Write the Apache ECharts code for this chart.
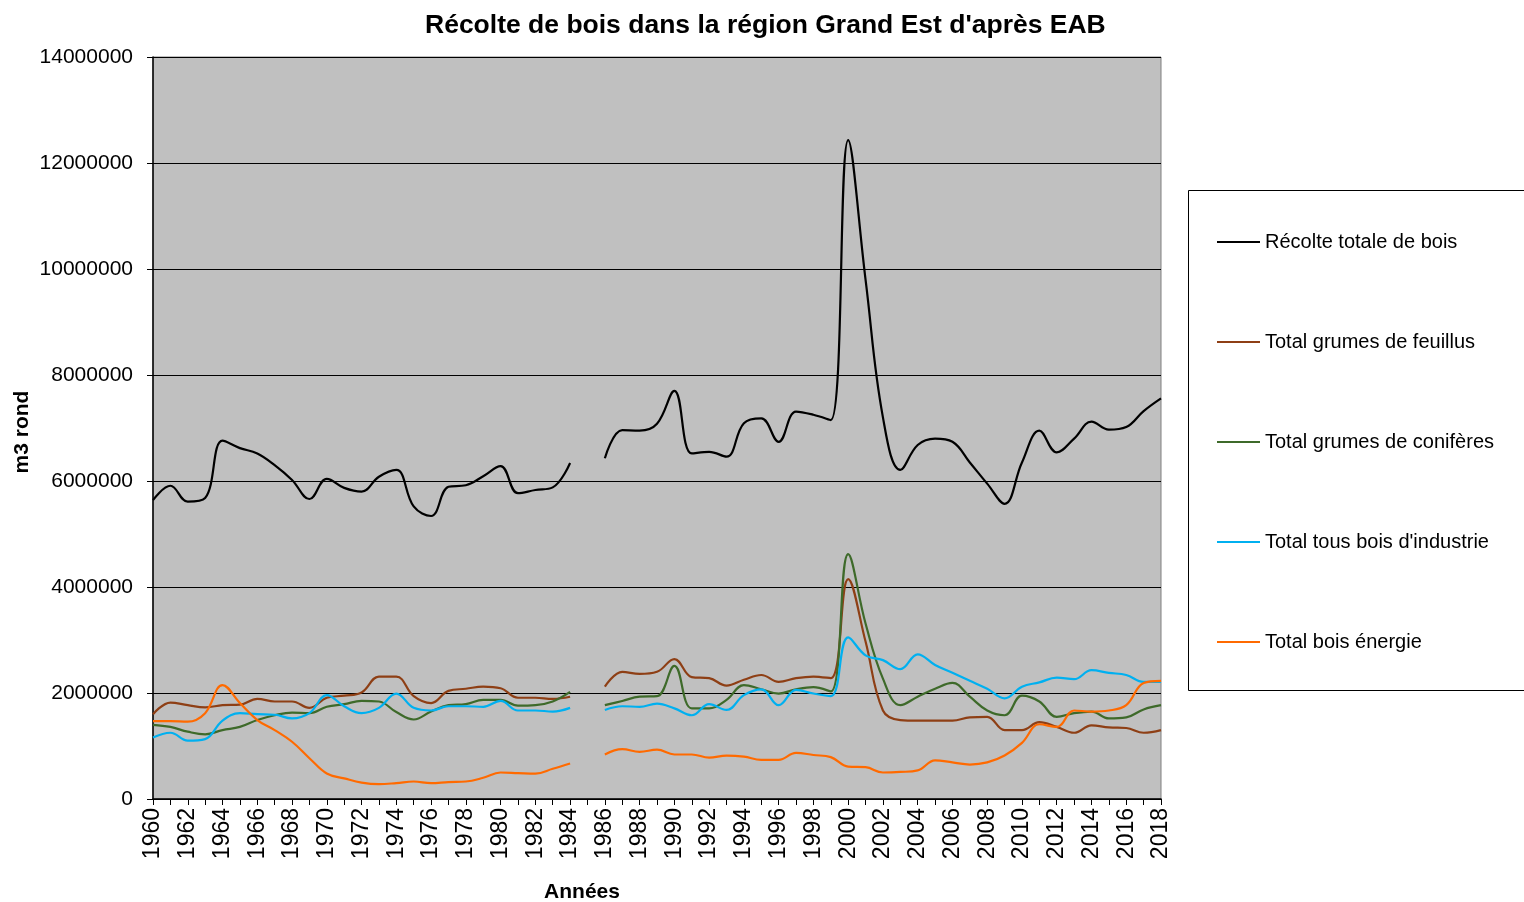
<!DOCTYPE html>
<html>
<head>
<meta charset="utf-8">
<script src="https://cdn.jsdelivr.net/npm/echarts@6/dist/echarts.min.js"></script>
<style>
html,body{margin:0;padding:0;background:#fff;}
#chart{width:1524px;height:902px;}
</style>
</head>
<body>
<div id="chart"></div>
<script>
const years = [];
for (let y = 1960; y <= 2018; y++) years.push(String(y));

const recolteTotale = [
5640000,5910000,5610000,5680000,6760000,6620000,6520000,6300000,6020000,5660000,
6040000,5870000,5800000,6080000,6210000,5520000,5340000,5890000,5920000,6090000,
6280000,5770000,5830000,5880000,6340000,null,
6430000,6960000,6950000,7080000,7700000,6520000,6550000,6460000,7090000,7180000,
6740000,7310000,7250000,7150000,12430000,9800000,7200000,6210000,6680000,6800000,
6740000,6350000,5950000,5570000,6350000,6950000,6540000,6800000,7120000,6970000,
7020000,7320000,7560000];

const grumesFeuillus = [
1600000,1820000,1770000,1730000,1770000,1780000,1890000,1840000,1840000,1720000,
1910000,1950000,2010000,2310000,2310000,1940000,1810000,2040000,2080000,2120000,
2090000,1910000,1910000,1890000,1930000,null,
2120000,2400000,2360000,2400000,2640000,2300000,2280000,2140000,2250000,2340000,
2210000,2280000,2310000,2280000,4150000,2970000,1670000,1490000,1480000,1480000,
1480000,1540000,1550000,1300000,1300000,1450000,1360000,1250000,1390000,1350000,
1340000,1250000,1300000];

const grumesConiferes = [
1400000,1360000,1270000,1220000,1300000,1360000,1490000,1580000,1630000,1620000,
1740000,1790000,1850000,1840000,1640000,1500000,1650000,1770000,1790000,1870000,
1870000,1760000,1770000,1840000,2020000,null,
1770000,1850000,1930000,1940000,2510000,1710000,1710000,1870000,2150000,2070000,
1990000,2070000,2110000,2030000,4620000,3310000,2270000,1770000,1930000,2080000,
2190000,1930000,1670000,1580000,1950000,1840000,1550000,1620000,1650000,1520000,
1540000,1690000,1770000];

const boisIndustrie = [
1160000,1250000,1100000,1130000,1480000,1620000,1600000,1590000,1520000,1620000,
1960000,1750000,1620000,1720000,1990000,1720000,1670000,1750000,1750000,1740000,
1850000,1670000,1670000,1650000,1720000,null,
1680000,1750000,1740000,1800000,1710000,1580000,1790000,1680000,1960000,2070000,
1770000,2060000,1990000,1940000,3050000,2710000,2620000,2450000,2730000,2530000,
2380000,2230000,2080000,1900000,2120000,2200000,2290000,2260000,2430000,2380000,
2340000,2210000,2210000];

const boisEnergie = [
1470000,1470000,1460000,1620000,2150000,1810000,1490000,1300000,1080000,770000,
480000,390000,310000,280000,300000,330000,300000,320000,330000,400000,
500000,490000,480000,570000,670000,null,
840000,940000,890000,930000,840000,840000,780000,820000,800000,740000,
740000,870000,830000,790000,610000,600000,500000,510000,540000,730000,
690000,650000,690000,820000,1060000,1410000,1360000,1670000,1650000,1670000,
1770000,2190000,2230000];

const seriesNames = [
  "Récolte totale de bois",
  "Total grumes de feuillus",
  "Total grumes de conifères",
  "Total tous bois d'industrie",
  "Total bois énergie"
];
const seriesColors = ["#000000", "#8E3F15", "#3E6A2A", "#00B0F0", "#FF6A00"];
const seriesData = [recolteTotale, grumesFeuillus, grumesConiferes, boisIndustrie, boisEnergie];

const FONT = "'Liberation Sans', Arial, sans-serif";

const chart = echarts.init(document.getElementById('chart'), null, {renderer: 'canvas'});
chart.setOption({
  animation: false,
  backgroundColor: '#ffffff',
  textStyle: {fontFamily: FONT},
  title: {
    text: "Récolte de bois dans la région Grand Est d'après EAB",
    left: 420, top: 7,
    textStyle: {fontFamily: FONT, fontWeight: 'bold', fontSize: 26.5, color: '#000'}
  },
  graphic: [
    {type: 'rect', z: -1, shape: {x: 1188.5, y: 190.5, width: 400, height: 500},
     style: {fill: '#ffffff', stroke: '#000000', lineWidth: 1}},
    {type: 'text', style: {text: 'Années', x: 582, y: 892, align: 'center', verticalAlign: 'middle',
      font: "bold 21px 'Liberation Sans', Arial, sans-serif", fill: '#000'}},
    {type: 'text', x: 22, y: 432, rotation: Math.PI / 2,
     style: {text: 'm3 rond', x: 0, y: 0, align: 'center', verticalAlign: 'middle',
      font: "bold 21px 'Liberation Sans', Arial, sans-serif", fill: '#000'}}
  ],
  legend: {
    orient: 'vertical',
    left: 1212, top: 227,
    icon: 'rect',
    itemWidth: 43, itemHeight: 2,
    itemGap: 80,
    textStyle: {fontFamily: FONT, fontSize: 20, color: '#000'},
    data: seriesNames
  },
  grid: {
    left: 153, right: 363, top: 57, bottom: 103,
    show: true, backgroundColor: '#c0c0c0', borderColor: '#808080', borderWidth: 1
  },
  xAxis: {
    type: 'category',
    data: years,
    boundaryGap: false,
    axisLine: {lineStyle: {color: '#000', width: 1.5}},
    axisTick: {show: true, interval: 0, length: 6, lineStyle: {color: '#000'}},
    axisLabel: {interval: 1, rotate: 90, fontSize: 23, color: '#000', margin: 9, fontFamily: FONT},
    splitLine: {show: false}
  },
  yAxis: {
    type: 'value',
    min: 0, max: 14000000, interval: 2000000,
    axisLine: {show: true, lineStyle: {color: '#000', width: 1.5}},
    axisTick: {show: true, length: 6, lineStyle: {color: '#000'}},
    axisLabel: {fontSize: 21, color: '#000', margin: 20, fontFamily: FONT,
      formatter: function (v) { return String(v); }},
    splitLine: {show: true, lineStyle: {color: '#000', width: 1}}
  },
  series: seriesNames.map(function (name, i) {
    return {
      name: name,
      type: 'line',
      data: seriesData[i],
      smooth: 0.4,
      symbol: 'none',
      connectNulls: false,
      color: seriesColors[i],
      lineStyle: {color: seriesColors[i], width: 2.2}
    };
  })
});
</script>
</body>
</html>
